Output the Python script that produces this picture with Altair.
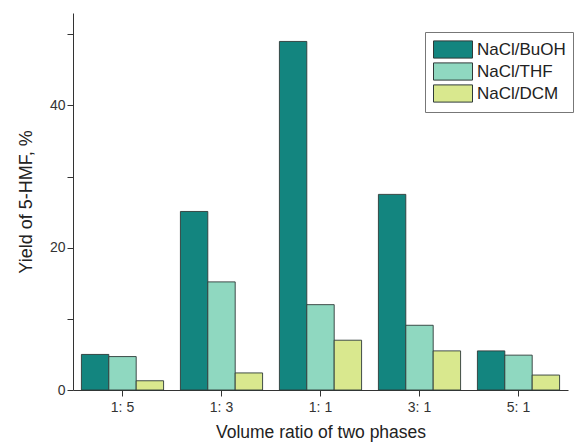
import altair as alt
import pandas as pd

ratios = ["1: 5", "1: 3", "1: 1", "3: 1", "5: 1"]
systems = ["NaCl/BuOH", "NaCl/THF", "NaCl/DCM"]
buoh = [5.0, 25.1, 49.0, 27.5, 5.5]
thf = [4.7, 15.2, 12.0, 9.1, 4.9]
dcm = [1.3, 2.4, 7.0, 5.5, 2.1]
colors = ["#13857f", "#8fd8c0", "#d9e88e"]

rows = []
for series, vals in zip(systems, [buoh, thf, dcm]):
    for r, v in zip(ratios, vals):
        rows.append({"ratio": r, "system": series, "yield": v})
df = pd.DataFrame(rows)

font = "Liberation Sans"

chart = alt.Chart(df).mark_bar(stroke="#2e3a38", strokeWidth=0.9).encode(
    x=alt.X("ratio:N", sort=ratios,
            scale=alt.Scale(paddingInner=0.17, paddingOuter=0.085),
            axis=alt.Axis(title="Volume ratio of two phases", labelAngle=0,
                          labelFontSize=14, titleFontSize=17.5, labelPadding=4,
                          titlePadding=9, tickSize=6)),
    xOffset=alt.XOffset("system:N", sort=systems),
    y=alt.Y("yield:Q", scale=alt.Scale(domain=[0, 53], nice=False),
            axis=alt.Axis(title="Yield of 5-HMF, %", values=[0, 10, 20, 30, 40, 50],
                          labelExpr="datum.value % 20 == 0 ? datum.label : ''",
                          labelFontSize=14, titleFontSize=18, titlePadding=14,
                          tickSize=6, grid=False)),
    color=alt.Color("system:N", sort=systems,
                    scale=alt.Scale(domain=systems, range=colors),
                    legend=alt.Legend(title=None, orient="none", legendX=352, legendY=19,
                                      symbolType="M-0.9,-0.86H3V0.86H-0.9Z", symbolSize=400,
                                      symbolStrokeColor="#2e3a38", symbolStrokeWidth=1,
                                      labelFontSize=17, rowPadding=-2, padding=7,
                                      strokeColor="#777", labelOffset=24)),
).properties(
    width=495, height=377,
    autosize=alt.AutoSizeParams(type="none"),
    padding={"left": 65, "top": 5, "right": 6, "bottom": 54},
).configure_view(stroke=None).configure_axis(
    labelFont=font, titleFont=font, domainColor="#333", tickColor="#333",
    labelColor="#333", titleColor="#222", titleFontWeight="normal"
).configure_legend(labelFont=font, labelColor="#222")

chart.save("out.html", embed_options={"renderer": "svg", "actions": False})
